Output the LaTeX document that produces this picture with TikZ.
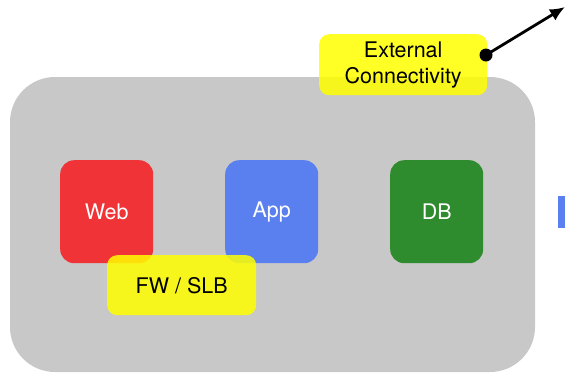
\documentclass[tikz,border=0pt]{standalone}
\usepackage{fontspec}
\setmainfont{TeX Gyre Heros}
\usetikzlibrary{arrows.meta}
\definecolor{boxgray}{RGB}{200,200,200}
\definecolor{webred}{RGB}{240,51,55}
\definecolor{appblue}{RGB}{90,128,240}
\definecolor{dbgreen}{RGB}{46,140,46}
\definecolor{labyellow}{RGB}{255,255,0}
\begin{document}
\begin{tikzpicture}[x=1pt,y=-1pt,
  tier/.style={rounded corners=14pt, minimum width=93pt, minimum height=103pt, inner sep=0pt, text=white, font=\fontsize{21.5}{25}\selectfont},
  tag/.style={rounded corners=10pt, fill=labyellow, fill opacity=0.85, text opacity=1, inner sep=0pt, text=black, font=\fontsize{21.5}{26}\selectfont, align=center}]
\useasboundingbox (0,0) rectangle (565,373);
\fill[boxgray, rounded corners=45pt] (10,77) rectangle (535,372);
\node[tier, fill=webred, anchor=north west] (web) at (60,160) {Web};
\node[tier, fill=appblue, anchor=north west] (app) at (225,160) {App};
\node[tier, fill=dbgreen, anchor=north west] (db) at (390,160) {DB};
\node[tag, minimum width=149pt, minimum height=60pt, anchor=north west] (fw) at (107,255) {FW / SLB};
\node[tag, minimum width=168pt, minimum height=61pt, anchor=north west] (ext) at (319,34) {\raisebox{-2pt}{External}\\\raisebox{-2pt}{Connectivity}};
\fill[appblue] (558,196) rectangle (565,228);
\coordinate (dot) at (486,55);
\coordinate (out) at (565,7);
\draw[line width=2.8pt, -{Latex[length=15pt,width=13pt]}] (dot) -- (out);
\fill[black] (dot) circle (6.5pt);
\end{tikzpicture}
\end{document}
